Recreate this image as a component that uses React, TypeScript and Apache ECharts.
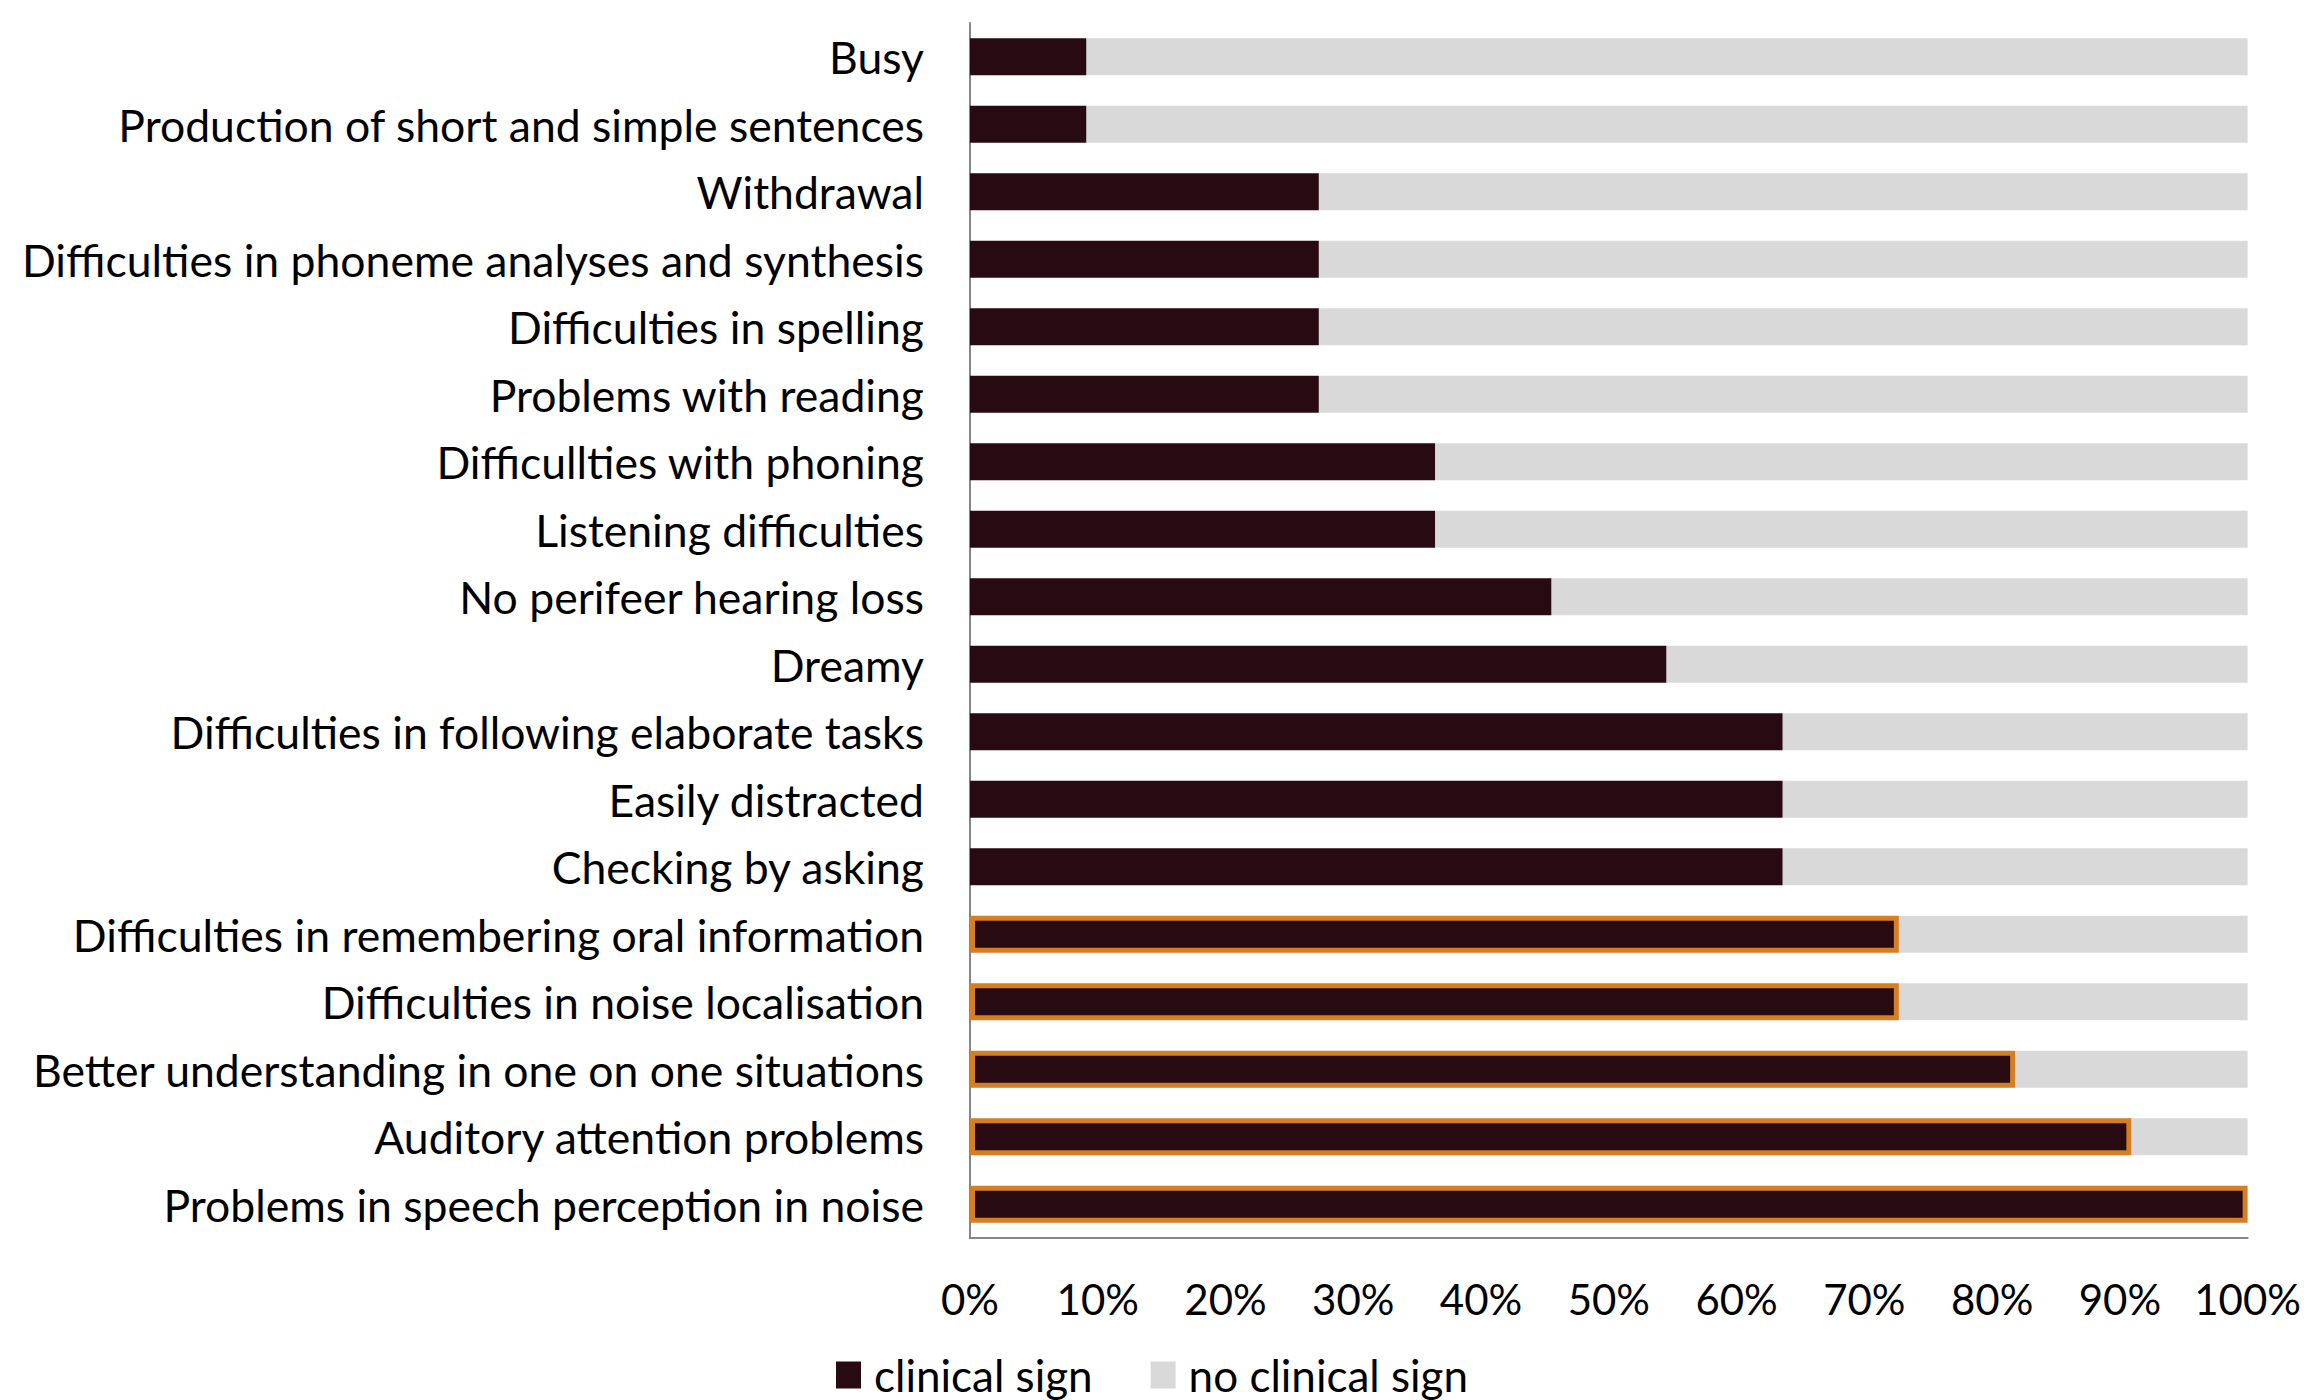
import React, { useEffect, useRef } from "react";
import * as echarts from "echarts";

const categories = [
  "Busy",
  "Production of short and simple sentences",
  "Withdrawal",
  "Difficulties in phoneme analyses and synthesis",
  "Difficulties in spelling",
  "Problems with reading",
  "Difficullties with phoning",
  "Listening difficulties",
  "No perifeer hearing loss",
  "Dreamy",
  "Difficulties in following elaborate tasks",
  "Easily distracted",
  "Checking by asking",
  "Difficulties in remembering oral information",
  "Difficulties in noise localisation",
  "Better understanding in one on one situations",
  "Auditory attention problems",
  "Problems in speech perception in noise",
];

const clinicalSign = [9.1, 9.1, 27.3, 27.3, 27.3, 27.3, 36.4, 36.4, 45.5, 54.5, 63.6, 63.6, 63.6, 72.7, 72.7, 81.8, 90.9, 100];
const noClinicalSign = [90.9, 90.9, 72.7, 72.7, 72.7, 72.7, 63.6, 63.6, 54.5, 45.5, 36.4, 36.4, 36.4, 27.3, 27.3, 18.2, 9.1, 0];

const highlightedCategories = [
  "Difficulties in remembering oral information",
  "Difficulties in noise localisation",
  "Better understanding in one on one situations",
  "Auditory attention problems",
  "Problems in speech perception in noise",
];

const xTicks = [0, 10, 20, 30, 40, 50, 60, 70, 80, 90, 100];

const FONT = "Lato";
const DARK = "#280A12";
const GREY = "#D9D9D9";
const ORANGE = "#D67E24";

export default function App() {
  const ref = useRef<HTMLDivElement>(null);
  useEffect(() => {
    document.body.style.margin = "0";
    if (!ref.current) return;
    const chart = echarts.init(ref.current, undefined, { renderer: "svg" });
    chart.setOption({
      animation: false,
      backgroundColor: "#ffffff",
      textStyle: { fontFamily: FONT },
      grid: { left: 970, right: 46, top: 23, bottom: 162, containLabel: false },
      legend: {
        data: ["clinical sign", "no clinical sign"],
        bottom: -2,
        left: "center",
        icon: "rect",
        itemWidth: 25,
        itemHeight: 27,
        itemGap: 58,
        textStyle: { fontFamily: FONT, fontSize: 44, color: "#000000", padding: [0, 0, 0, 8] },
      },
      xAxis: {
        type: "value",
        min: 0,
        max: 100,
        interval: 10,
        axisLine: { show: true, lineStyle: { color: "#868686", width: 2 } },
        axisTick: { show: false },
        splitLine: { show: false },
        axisLabel: {
          fontFamily: FONT,
          fontSize: 42,
          color: "#000000",
          margin: 40,
          formatter: (v: number) => (xTicks.includes(v) ? `${v}%` : ""),
        },
      },
      yAxis: {
        type: "category",
        inverse: true,
        data: categories,
        axisLine: { show: true, lineStyle: { color: "#868686", width: 2 } },
        axisTick: { show: false },
        axisLabel: { fontFamily: FONT, fontSize: 44.5, color: "#000000", margin: 46 },
      },
      series: [
        {
          name: "clinical sign",
          type: "bar",
          stack: "total",
          barWidth: "55%",
          z: 3,
          itemStyle: { color: DARK },
          data: clinicalSign.map((v, i) =>
            highlightedCategories.includes(categories[i])
              ? { value: v, itemStyle: { color: DARK, borderColor: ORANGE, borderWidth: 5 } }
              : v
          ),
        },
        {
          name: "no clinical sign",
          type: "bar",
          stack: "total",
          barWidth: "55%",
          z: 2,
          itemStyle: { color: GREY },
          data: noClinicalSign,
        },
      ],
    });
    return () => chart.dispose();
  }, []);
  return <div ref={ref} style={{ width: 2304, height: 1400 }} />;
}
